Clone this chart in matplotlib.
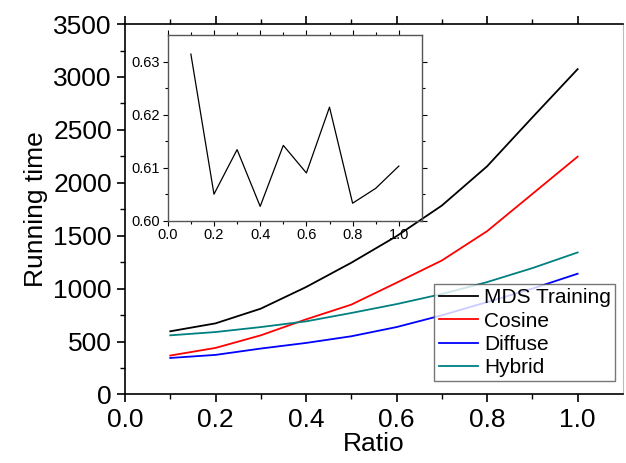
import matplotlib
matplotlib.use("Agg")
import matplotlib.pyplot as plt

plt.rcParams['font.family'] = ['Liberation Sans', 'DejaVu Sans']

# Data
ratio = [0.1, 0.2, 0.3, 0.4, 0.5, 0.6, 0.7, 0.8, 0.9, 1.0]
mds_training = [597, 672, 811, 1015, 1245, 1496, 1785, 2156, 2618, 3074]
cosine = [368, 440, 559, 710, 849, 1056, 1266, 1543, 1895, 2247]
diffuse = [345, 374, 434, 487, 550, 637, 748, 873, 1000, 1141]
hybrid = [559, 590, 637, 691, 770, 854, 949, 1062, 1194, 1342]
inset_vals = [0.6314, 0.6050, 0.6134, 0.6027, 0.6142, 0.6090, 0.6214, 0.6033, 0.6061, 0.6103]

fig = plt.figure(figsize=(6.26, 4.63), dpi=100)
ax = fig.add_axes([0.1997, 0.148, 0.7953, 0.800])

ax.plot(ratio, mds_training, color='black', lw=1.3, label='MDS Training')
ax.plot(ratio, cosine, color='red', lw=1.3, label='Cosine')
ax.plot(ratio, diffuse, color='blue', lw=1.3, label='Diffuse')
ax.plot(ratio, hybrid, color='#008080', lw=1.3, label='Hybrid')

ax.set_xlim(0, 1.1)
ax.set_ylim(0, 3500)
ax.set_xticks([0.0, 0.2, 0.4, 0.6, 0.8, 1.0])
ax.set_xticks([0.1, 0.3, 0.5, 0.7, 0.9], minor=True)
ax.set_yticks(range(0, 3501, 500))
ax.set_yticks(range(250, 3500, 500), minor=True)
ax.tick_params(axis='both', which='major', direction='out', length=6, width=1.2,
               labelsize=19, top=True, right=False)
ax.tick_params(axis='both', which='minor', direction='out', length=3.5, width=1.0,
               top=True, right=False)
ax.tick_params(axis='x', which='both', labeltop=False)
for s in ['left', 'bottom', 'top']:
    ax.spines[s].set_linewidth(1.2)
ax.spines['right'].set_color('#bbbbbb')
ax.set_xlabel('Ratio', fontsize=19, labelpad=0)
ax.set_ylabel('Running time', fontsize=19, labelpad=4)

leg = ax.legend(loc='lower right', bbox_to_anchor=(0.985, 0.036), fontsize=15,
                frameon=True, fancybox=False, borderaxespad=0, handlelength=1.9,
                borderpad=0.2, labelspacing=0.2, handletextpad=0.3)
leg.get_frame().set_edgecolor('#555555')
leg.get_frame().set_linewidth(1.0)

# inset
ins = fig.add_axes([0.268, 0.5233, 0.406, 0.4011])
ins.set_facecolor('none')
ins.plot(ratio, inset_vals, color='black', lw=0.9)
ins.set_xlim(0, 1.1)
ins.set_ylim(0.60, 0.635)
ins.set_xticks([0.0, 0.2, 0.4, 0.6, 0.8, 1.0])
ins.set_xticks([0.1, 0.3, 0.5, 0.7, 0.9], minor=True)
ins.set_yticks([0.60, 0.61, 0.62, 0.63])
ins.set_yticks([0.605, 0.615, 0.625], minor=True)
ins.set_xticklabels(['0.0', '0.2', '0.4', '0.6', '0.8', '1.0'])
ins.set_yticklabels(['0.60', '0.61', '0.62', '0.63'])
ins.tick_params(axis='both', which='major', direction='out', length=3.5, width=0.8,
                labelsize=10.5, top=True, right=True, pad=2)
ins.tick_params(axis='both', which='minor', direction='out', length=2, width=0.8,
                top=True, right=True)
for s in ins.spines.values():
    s.set_color('#555555')
    s.set_linewidth(1.0)

fig.savefig('out.png', dpi=100)
